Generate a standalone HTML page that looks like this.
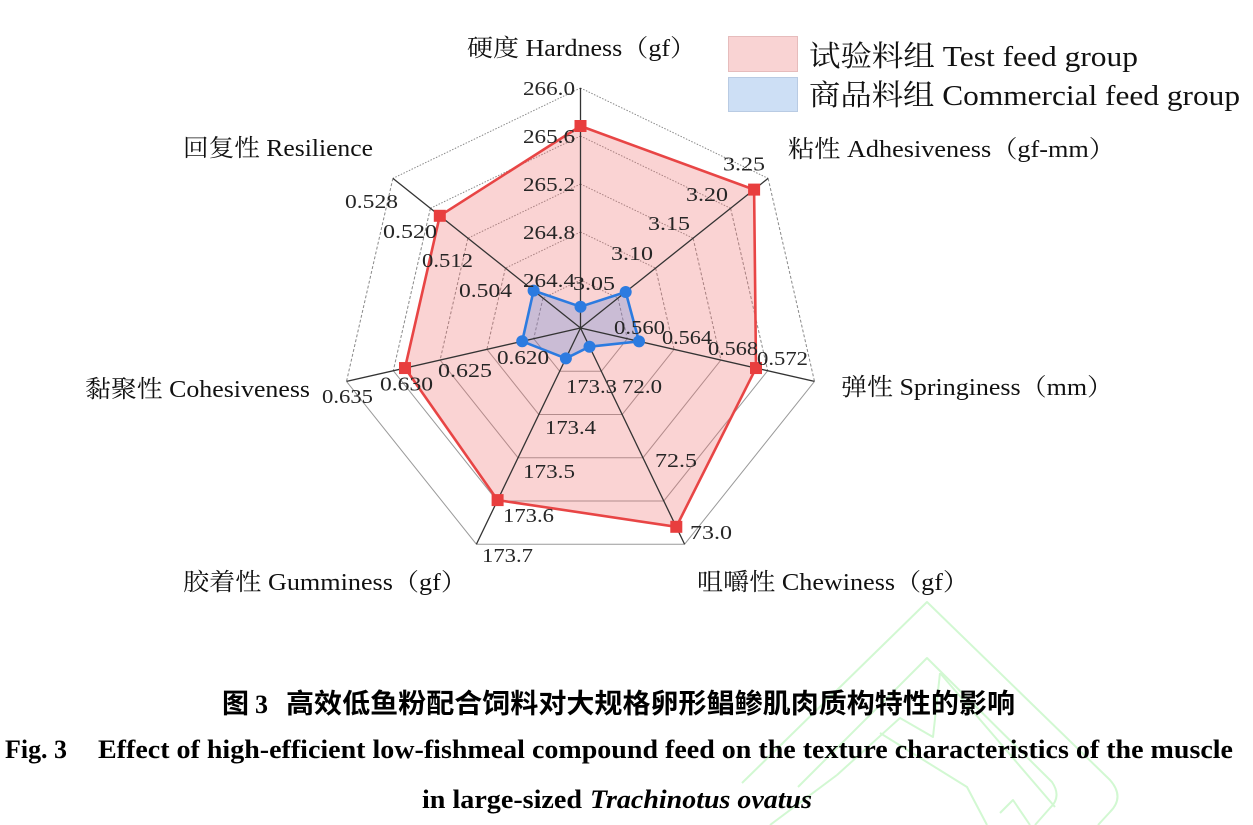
<!DOCTYPE html>
<html><head><meta charset="utf-8"><style>
html,body{margin:0;padding:0;background:#fff;}
svg{display:block;}
.t{font-family:"Liberation Serif","Noto Serif CJK SC",serif;fill:#262626;font-size:20px;}
.ax{font-family:"Liberation Serif","Noto Serif CJK SC",serif;fill:#111;font-size:24px;}
.lg{font-family:"Liberation Serif","Noto Serif CJK SC",serif;fill:#111;font-size:29px;}
.cap{font-family:"Liberation Serif","Noto Sans CJK SC",serif;font-weight:bold;fill:#000;}
</style></head><body>
<svg width="1253" height="825" viewBox="0 0 1253 825" xmlns="http://www.w3.org/2000/svg">
<rect width="1253" height="825" fill="#fff"/>
<!-- watermark -->
<g fill="none" stroke="#d2f8d2" stroke-width="2" stroke-linejoin="round">
<path d="M742,783 L927,602 L1110,780 Q1125,797 1110,812 L1098,825"/>
<path d="M798,787 L927,658 L1052,782 Q1062,797 1050,808 L1035,825"/>
<path d="M940,673 L1055,807"/>
<path d="M940,673 L933,737 L900,718 L837,775"/>
<path d="M880,733 L967,787 L987,825"/>
<path d="M1000,813 L1013,800 L1030,825"/>
<path d="M770,825 L837,775"/>
</g>

<!-- grid rings -->
<g fill="none" stroke-width="1">
<g stroke="#8a8a8a" stroke-dasharray="1.5 1.5">
<line x1="580.5" y1="280" x2="618.0" y2="298.07"/>
<line x1="580.5" y1="232" x2="655.6" y2="268.14"/>
<line x1="580.5" y1="184" x2="693.1" y2="238.22"/>
<line x1="580.5" y1="136" x2="730.6" y2="208.29"/>
<line x1="580.5" y1="88" x2="768.1" y2="178.36"/>
<line x1="580.5" y1="280" x2="543.0" y2="298.07"/>
<line x1="580.5" y1="232" x2="505.4" y2="268.14"/>
<line x1="580.5" y1="184" x2="467.9" y2="238.22"/>
<line x1="580.5" y1="136" x2="430.4" y2="208.29"/>
<line x1="580.5" y1="88" x2="392.9" y2="178.36"/>
</g>
<g stroke="#8a8a8a" stroke-dasharray="3 2">
<line x1="618.0" y1="298.07" x2="627.3" y2="338.68"/>
<line x1="655.6" y1="268.14" x2="674.1" y2="349.36"/>
<line x1="693.1" y1="238.22" x2="720.9" y2="360.04"/>
<line x1="730.6" y1="208.29" x2="767.7" y2="370.72"/>
<line x1="768.1" y1="178.36" x2="814.5" y2="381.40"/>
<line x1="543.0" y1="298.07" x2="533.7" y2="338.68"/>
<line x1="505.4" y1="268.14" x2="486.9" y2="349.36"/>
<line x1="467.9" y1="238.22" x2="440.1" y2="360.04"/>
<line x1="430.4" y1="208.29" x2="393.3" y2="370.72"/>
<line x1="392.9" y1="178.36" x2="346.5" y2="381.40"/>
</g>
<g stroke="#9a9a9a">
<polyline points="627.3,338.68 601.3,371.25 559.7,371.25 533.7,338.68"/>
<polyline points="674.1,349.36 622.2,414.49 538.8,414.49 486.9,349.36"/>
<polyline points="720.9,360.04 643.0,457.74 518.0,457.74 440.1,360.04"/>
<polyline points="767.7,370.72 663.8,500.99 497.2,500.99 393.3,370.72"/>
<polyline points="814.5,381.40 684.6,544.23 476.4,544.23 346.5,381.40"/>
</g>
</g>

<!-- fills -->
<polygon points="580.5,126 754.1,189.6 756.0,368.05 676.3,526.8 497.6,500.1 405.0,368.05 439.8,215.8" fill="rgba(240,110,110,0.3)"/>
<polygon points="580.5,306.7 625.7,292.0 639.0,341.35 589.5,346.7 565.9,358.4 522.2,341.3 533.6,290.6" fill="rgba(80,130,220,0.28)"/>

<!-- axes -->
<g stroke="#333" stroke-width="1.3">
<line x1="580.5" y1="328" x2="580.5" y2="88"/>
<line x1="580.5" y1="328" x2="768.1" y2="178.36"/>
<line x1="580.5" y1="328" x2="814.5" y2="381.40"/>
<line x1="580.5" y1="328" x2="684.6" y2="544.23"/>
<line x1="580.5" y1="328" x2="476.4" y2="544.23"/>
<line x1="580.5" y1="328" x2="346.5" y2="381.40"/>
<line x1="580.5" y1="328" x2="392.9" y2="178.36"/>
</g>

<!-- series lines -->
<polygon points="580.5,126 754.1,189.6 756.0,368.05 676.3,526.8 497.6,500.1 405.0,368.05 439.8,215.8" fill="none" stroke="#e84545" stroke-width="2.6" stroke-linejoin="round"/>
<polygon points="580.5,306.7 625.7,292.0 639.0,341.35 589.5,346.7 565.9,358.4 522.2,341.3 533.6,290.6" fill="none" stroke="#2c7be0" stroke-width="2.6" stroke-linejoin="round"/>

<!-- markers -->
<g fill="#e83e3e">
<rect x="574.5" y="120" width="12" height="12"/>
<rect x="748.1" y="183.6" width="12" height="12"/>
<rect x="750.0" y="362.05" width="12" height="12"/>
<rect x="670.3" y="520.8" width="12" height="12"/>
<rect x="491.6" y="494.1" width="12" height="12"/>
<rect x="399.0" y="362.05" width="12" height="12"/>
<rect x="433.8" y="209.8" width="12" height="12"/>
</g>
<g fill="#2c7be0">
<circle cx="580.5" cy="306.7" r="6"/>
<circle cx="625.7" cy="292.0" r="6"/>
<circle cx="639.0" cy="341.35" r="6"/>
<circle cx="589.5" cy="346.7" r="6"/>
<circle cx="565.9" cy="358.4" r="6"/>
<circle cx="522.2" cy="341.3" r="6"/>
<circle cx="533.6" cy="290.6" r="6"/>
</g>

<!-- tick labels -->
<g class="t">
<text x="523" y="95" textLength="52" lengthAdjust="spacingAndGlyphs">266.0</text>
<text x="523" y="143" textLength="52" lengthAdjust="spacingAndGlyphs">265.6</text>
<text x="523" y="191" textLength="52" lengthAdjust="spacingAndGlyphs">265.2</text>
<text x="523" y="239" textLength="52" lengthAdjust="spacingAndGlyphs">264.8</text>
<text x="523" y="287" textLength="52" lengthAdjust="spacingAndGlyphs">264.4</text>

<text x="723" y="170.5" textLength="42" lengthAdjust="spacingAndGlyphs">3.25</text>
<text x="686" y="201" textLength="42" lengthAdjust="spacingAndGlyphs">3.20</text>
<text x="648" y="230" textLength="42" lengthAdjust="spacingAndGlyphs">3.15</text>
<text x="611" y="260" textLength="42" lengthAdjust="spacingAndGlyphs">3.10</text>
<text x="573" y="290" textLength="42" lengthAdjust="spacingAndGlyphs">3.05</text>

<text x="614" y="334" textLength="51" lengthAdjust="spacingAndGlyphs">0.560</text>
<text x="662" y="344" textLength="50" lengthAdjust="spacingAndGlyphs">0.564</text>
<text x="708" y="355" textLength="50" lengthAdjust="spacingAndGlyphs">0.568</text>
<text x="757" y="365" textLength="51" lengthAdjust="spacingAndGlyphs">0.572</text>

<text x="622" y="393" textLength="40" lengthAdjust="spacingAndGlyphs">72.0</text>
<text x="655" y="467" textLength="42" lengthAdjust="spacingAndGlyphs">72.5</text>
<text x="690" y="539" textLength="42" lengthAdjust="spacingAndGlyphs">73.0</text>

<text x="566" y="393" textLength="51" lengthAdjust="spacingAndGlyphs">173.3</text>
<text x="545" y="434" textLength="51" lengthAdjust="spacingAndGlyphs">173.4</text>
<text x="523" y="478" textLength="52" lengthAdjust="spacingAndGlyphs">173.5</text>
<text x="503" y="522" textLength="51" lengthAdjust="spacingAndGlyphs">173.6</text>
<text x="482" y="562" textLength="51" lengthAdjust="spacingAndGlyphs">173.7</text>

<text x="497" y="364" textLength="52" lengthAdjust="spacingAndGlyphs">0.620</text>
<text x="438" y="377" textLength="54" lengthAdjust="spacingAndGlyphs">0.625</text>
<text x="380" y="390.5" textLength="53" lengthAdjust="spacingAndGlyphs">0.630</text>
<text x="322" y="403" textLength="51" lengthAdjust="spacingAndGlyphs">0.635</text>

<text x="345" y="208" textLength="53" lengthAdjust="spacingAndGlyphs">0.528</text>
<text x="383" y="238" textLength="54" lengthAdjust="spacingAndGlyphs">0.520</text>
<text x="422" y="267" textLength="51" lengthAdjust="spacingAndGlyphs">0.512</text>
<text x="459" y="297" textLength="53" lengthAdjust="spacingAndGlyphs">0.504</text>
</g>

<!-- axis titles -->
<text class="ax" x="467" y="56" textLength="229" lengthAdjust="spacingAndGlyphs">硬度 Hardness（gf）</text>
<text class="ax" x="788" y="157" textLength="327" lengthAdjust="spacingAndGlyphs">粘性 Adhesiveness（gf-mm）</text>
<text class="ax" x="841" y="395" textLength="272" lengthAdjust="spacingAndGlyphs">弹性 Springiness（mm）</text>
<text class="ax" x="697" y="590" textLength="272" lengthAdjust="spacingAndGlyphs">咀嚼性 Chewiness（gf）</text>
<text class="ax" x="183" y="590" textLength="284" lengthAdjust="spacingAndGlyphs">胶着性 Gumminess（gf）</text>
<text class="ax" x="85" y="397" textLength="225" lengthAdjust="spacingAndGlyphs">黏聚性 Cohesiveness</text>
<text class="ax" x="183" y="156" textLength="190" lengthAdjust="spacingAndGlyphs">回复性 Resilience</text>

<!-- legend -->
<rect x="728.5" y="36.5" width="69" height="35" fill="#f9d3d3" stroke="#e6bcbc" stroke-width="1"/>
<rect x="728.5" y="77.5" width="69" height="34" fill="#cddff5" stroke="#b9cbe3" stroke-width="1"/>
<text class="lg" x="809" y="66" textLength="329" lengthAdjust="spacingAndGlyphs">试验料组 Test feed group</text>
<text class="lg" x="809" y="105" textLength="431" lengthAdjust="spacingAndGlyphs">商品料组 Commercial feed group</text>

<!-- caption -->
<text class="cap" x="222" y="713" font-size="27" style="font-family:'Noto Sans CJK SC',sans-serif">图</text>
<text class="cap" x="255" y="713" font-size="26" style="font-family:'Liberation Serif',serif">3</text>
<text class="cap" x="286" y="713" font-size="27" textLength="729" lengthAdjust="spacingAndGlyphs" style="font-family:'Noto Sans CJK SC',sans-serif">高效低鱼粉配合饲料对大规格卵形鲳鲹肌肉质构特性的影响</text>
<text class="cap" x="5" y="758" font-size="26" textLength="62" lengthAdjust="spacingAndGlyphs" style="font-family:'Liberation Serif',serif">Fig. 3</text>
<text class="cap" x="98" y="758" font-size="26" textLength="1135" lengthAdjust="spacingAndGlyphs" style="font-family:'Liberation Serif',serif">Effect of high-efficient low-fishmeal compound feed on the texture characteristics of the muscle</text>
<text class="cap" x="422" y="808" font-size="26" textLength="160" lengthAdjust="spacingAndGlyphs" style="font-family:'Liberation Serif',serif">in large-sized</text>
<text class="cap" x="590" y="808" font-size="26" font-style="italic" textLength="222" lengthAdjust="spacingAndGlyphs" style="font-family:'Liberation Serif',serif">Trachinotus ovatus</text>
</svg>
</body></html>
